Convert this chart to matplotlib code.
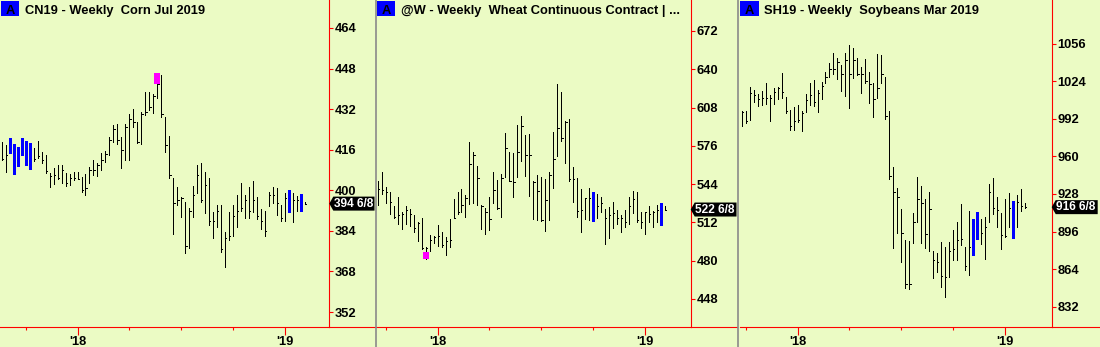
import matplotlib
matplotlib.use("Agg")
import matplotlib.pyplot as plt
from matplotlib.patches import Polygon, Rectangle
from matplotlib.lines import Line2D
from matplotlib.transforms import Bbox, TransformedBbox

plt.rcParams['font.family'] = ['Liberation Sans', 'DejaVu Sans']

# ---------------- data ----------------
corn_title = "CN19 - Weekly  Corn Jul 2019"
corn_high = [419.2, 417.9, 420.6, 418.3, 417.2, 420.6, 419.3, 418.7, 416.5, 419.4,
             415.0, 413.8, 407.0, 408.9, 410.0, 410.0, 406.7, 406.3, 407.1, 407.3,
             405.4, 406.3, 409.1, 411.9, 410.8, 414.6, 415.5, 421.1, 425.7, 426.3,
             421.1, 426.0, 430.0, 432.1, 427.1, 430.9, 438.9, 438.9, 438.0, 446.2,
             445.5, 429.0, 421.5, 404.7, 401.2, 397.4, 395.5, 392.9, 401.8, 410.0,
             410.6, 407.1, 404.7, 391.6, 394.1, 394.2, 383.7, 391.6, 394.2, 398.2,
             402.8, 398.2, 401.4, 403.8, 397.4, 392.5, 392.0, 399.5, 401.4, 401.0,
             394.2, 399.1, 400.1, 398.8, 397.9, 398.7, 395.5]
corn_low = [411.9, 407.1, 414.8, 406.6, 409.7, 414.1, 410.1, 408.5, 411.7, 412.6,
            410.6, 406.7, 401.4, 402.5, 404.5, 402.8, 401.6, 402.1, 404.1, 404.3,
            399.2, 398.3, 402.8, 406.0, 405.8, 408.0, 411.3, 413.9, 419.2, 418.4,
            408.7, 411.9, 411.9, 425.1, 418.5, 418.4, 429.7, 431.7, 430.3, 436.3,
            429.0, 415.2, 404.7, 382.6, 394.2, 389.6, 375.4, 377.1, 389.6, 399.1,
            395.5, 390.9, 386.3, 381.3, 385.7, 375.8, 369.9, 380.4, 382.0, 385.7,
            391.8, 389.0, 389.0, 391.6, 388.7, 384.7, 382.0, 393.9, 394.9, 390.3,
            387.9, 387.9, 391.6, 387.6, 392.0, 392.0, 394.5]
corn_close = [412.3, 414, 415.5, 409, 416, 415, 411, 416, 412.5, 413.5,
              412, 407.5, 405.5, 406, 405, 408, 403, 405, 405, 404.5,
              400, 401, 408, 408, 410, 412, 414.5, 420, 424, 420,
              416, 425, 428, 427, 419, 430, 431, 433, 437, 442,
              430, 418, 406, 395, 396, 397, 378, 392, 398, 406,
              396, 402, 388, 388, 392, 377, 381, 382, 390, 392,
              393, 396, 392, 396, 390, 388, 384, 398, 398, 395,
              389, 397, 392, 396, 396, 392.5, 394.75]
corn_blue = [2, 3, 4, 5, 6, 7, 72, 75]
corn_paint = (39, 441.8, 446.2)
corn_yticks = [352, 368, 384, 400, 416, 432, 448, 464]
corn_years = [19, 71]
corn_quarters = [6, 19, 32, 45, 58, 71]
corn_last = (394.75, "394 6/8")

wheat_title = "@W - Weekly  Wheat Continuous Contract | ..."
wheat_high = [546.6, 553.8, 541.3, 537.1, 525.7, 533.5, 521.0, 525.7, 522.9, 518.2,
              512.6, 515.4, 491.7, 501.5, 500.6, 509.8, 504.2, 500.1, 514.6, 531.3,
              537.7, 539.6, 534.9, 578.9, 571.1, 559.4, 526.5, 524.3, 532.9, 554.4,
              547.4, 552.4, 586.4, 571.1, 569.7, 593.4, 601.2, 585.0, 585.6, 546.6,
              551.6, 550.2, 548.0, 553.8, 587.8, 627.4, 620.7, 597.0, 598.1, 558.6,
              549.4, 539.9, 532.1, 540.5, 537.1, 535.5, 533.5, 523.2, 524.6, 528.8,
              522.4, 518.2, 522.4, 533.2, 538.5, 537.7, 521.0, 521.0, 525.7, 521.8,
              526.5, 528.2, 525.7]
wheat_low = [526.5, 535.5, 528.5, 519.0, 515.9, 510.4, 506.5, 510.4, 509.3, 503.7,
             496.7, 489.5, 481.7, 488.4, 494.5, 492.5, 491.7, 484.7, 491.7, 515.4,
             518.7, 520.4, 516.8, 527.1, 527.9, 526.5, 506.5, 502.0, 505.6, 527.9,
             523.2, 516.8, 549.7, 546.6, 533.5, 550.2, 563.3, 551.1, 534.3, 514.6,
             513.7, 513.4, 505.1, 514.0, 541.0, 567.5, 580.3, 561.4, 546.6, 528.8,
             516.8, 504.2, 514.6, 514.0, 513.4, 515.9, 520.4, 494.2, 499.2, 507.0,
             510.7, 504.2, 508.4, 510.7, 519.6, 512.6, 507.6, 502.0, 512.6, 508.4,
             512.6, 510.1, 522.4]
wheat_close = [539.9, 539.1, 537.1, 529.3, 516.8, 518.2, 518.7, 522.4, 518.7, 507.0,
               511.2, 490.9, 490.3, 497.3, 500.1, 500.9, 493.1, 496.7, 497.3, 515.9,
               521.0, 526.5, 532.1, 560.5, 568.3, 548.8, 525.7, 521.0, 514.8, 539.1,
               523.7, 548.8, 573.9, 547.0, 546.0, 570.6, 592.6, 568.3, 568.3, 546.0,
               538.2, 514.0, 530.7, 551.6, 564.7, 590.6, 582.3, 596.2, 548.0, 548.3,
               521.5, 522.4, 532.1, 532.1, 515.4, 525.7, 527.9, 515.4, 518.2, 519.6,
               515.4, 515.4, 512.6, 525.7, 531.3, 514.0, 512.6, 521.0, 518.7, 521.0,
               522.4, 520.0, 522.75]
wheat_blue = [54, 71]
wheat_paint = (12, 481.7, 487.5)
wheat_yticks = [448, 480, 512, 544, 576, 608, 640, 672]
wheat_years = [15, 67]
wheat_quarters = [2, 15, 28, 41, 54, 67]
wheat_last = (522.75, "522 6/8")

soy_title = "SH19 - Weekly  Soybeans Mar 2019"
soy_high = [998.7, 999.0, 1018.9, 1016.6, 1012.9, 1015.8, 1022.3, 1012.4, 1018.6, 1019.4,
            1030.8, 1010.9, 999.6, 1002.4, 1003.8, 998.7, 1013.2, 1022.3, 1025.1, 1016.6,
            1023.7, 1032.2, 1039.9, 1047.8, 1043.6, 1037.9, 1047.8, 1054.9, 1052.0, 1043.6,
            1036.4, 1042.7, 1032.2, 1022.3, 1046.9, 1046.4, 1028.0, 999.0, 951.3, 932.9,
            914.9, 888.8, 887.9, 912.1, 942.7, 934.8, 923.4, 929.4, 879.4, 877.5,
            887.4, 882.6, 887.4, 897.3, 904.4, 919.2, 883.2, 913.5, 906.7, 912.7,
            906.7, 908.7, 936.5, 941.9, 925.7, 912.1, 923.4, 928.6, 922.1, 927.2,
            932.0, 920.1]
soy_low = [985.9, 988.2, 991.0, 1006.7, 1003.3, 1003.8, 1004.7, 990.5, 1004.7, 1008.9,
           1009.5, 996.7, 982.5, 982.5, 989.6, 982.0, 997.6, 1003.8, 1003.0, 998.2,
           1008.7, 1022.3, 1028.0, 1030.0, 1025.7, 1016.0, 1011.5, 1001.6, 1026.5, 1029.3,
           1013.7, 1022.8, 1005.8, 993.8, 1010.0, 1022.3, 991.6, 940.5, 881.7, 894.5,
           870.3, 847.6, 846.8, 886.0, 904.4, 886.0, 881.7, 879.7, 856.1, 861.8,
           848.5, 840.5, 857.5, 871.8, 871.8, 884.6, 863.3, 859.0, 876.1, 889.7,
           885.2, 872.4, 904.4, 910.7, 900.2, 880.9, 891.7, 899.6, 890.8, 900.2,
           913.8, 915.8]
soy_close = [998, 990, 1014, 1012, 1009, 1010, 1010, 1010, 1015, 1018,
             1015, 999, 986, 990, 991, 997, 1008, 1012, 1006, 1014,
             1020, 1028, 1034, 1034, 1040, 1030, 1042, 1030, 1042, 1030,
             1030, 1024, 1022, 1009, 1018, 1030, 994, 943, 930, 925,
             895, 851, 851, 904, 924, 920, 894, 915, 872, 870,
             858, 857, 879, 881, 889, 890, 867, 883, 880, 895,
             895, 900, 930, 916, 914, 893, 892, 916, 900, 921,
             918, 916.75]
soy_blue = [58, 59, 68]
soy_paint = None
soy_yticks = [832, 864, 896, 928, 960, 992, 1024, 1056]
soy_years = [14, 66]
soy_quarters = [1, 14, 27, 40, 53, 66]
soy_last = (916.75, "916 6/8")
year_labels = ["'18", "'19"]

# ---------------- style / layout ----------------
W, H = 1100, 347
BG = '#EBFBC4'
RED = '#FF0000'
BLUE = '#0000FF'
MAGENTA = '#FF00FF'
GREY = '#8A8A8A'
FS = 9.3
TAG_FS = 8.6
AXIS_Y = 327.3
STEP = 3.99
BAR_LW = 0.72

fig = plt.figure(figsize=(W / 100, H / 100), dpi=100, facecolor=BG)


def fx(px):
    return px / W


def fy(py):
    return 1 - py / H


def panel(left, axis_x, right, first_px, ylim, title, highs, lows, closes,
          blue, paint, yticks, years, quarters, last):
    ax = fig.add_axes([fx(left), fy(AXIS_Y), (axis_x - left) / W, AXIS_Y / H])
    ax.set_facecolor(BG)
    ax.set_xlim((left - first_px) / STEP, (axis_x - first_px) / STEP)
    ax.set_ylim(*ylim)
    for s in ['top', 'left']:
        ax.spines[s].set_visible(False)
    for s in ['right', 'bottom']:
        ax.spines[s].set_color(RED)
        ax.spines[s].set_linewidth(0.8)

    n = len(highs)
    black = [i for i in range(n) if i not in blue]
    ax.vlines(black, [lows[i] for i in black], [highs[i] for i in black],
              colors='black', lw=BAR_LW, antialiased=False)
    ax.hlines([closes[i] for i in black], black, [i + 0.32 for i in black],
              colors='black', lw=BAR_LW, antialiased=False)
    if blue:
        ax.vlines(blue, [lows[i] for i in blue], [highs[i] for i in blue],
                  colors=BLUE, lw=2.15, antialiased=False)
    if paint is not None:
        pi, plo, phi = paint
        ax.vlines([pi], [plo], [phi], colors=MAGENTA, lw=2.9, antialiased=False)

    # y axis on the right
    ax.yaxis.tick_right()
    ax.set_yticks(yticks)
    ax.set_yticklabels([str(v) for v in yticks], fontweight='bold')
    ax.tick_params(axis='y', length=3, width=0.8, color=RED, pad=1,
                   labelsize=FS, labelcolor='black')
    # x axis
    ax.set_xticks(years)
    ax.set_xticklabels(year_labels, fontweight='bold')
    ax.set_xticks(quarters, minor=True)
    ax.tick_params(axis='x', which='major', length=6, width=0.8, color=RED,
                   pad=0, labelsize=FS, labelcolor='black')
    ax.tick_params(axis='x', which='minor', length=2, width=0.8, color=RED)

    # bottom red line extension under the label column
    fig.add_artist(Line2D([fx(axis_x), fx(right)], [fy(AXIS_Y), fy(AXIS_Y)],
                          color=RED, lw=0.8, transform=fig.transFigure))

    # title box
    fig.add_artist(Rectangle((fx(left + 0.5), fy(16)), 18.5 / W, 15 / H,
                             facecolor=BLUE, edgecolor='none',
                             transform=fig.transFigure))
    fig.text(fx(left + 9.8), fy(14), "A", color='black', fontweight='bold',
             fontsize=FS, ha='center', va='baseline')
    fig.text(fx(left + 25), fy(13.7), title, color='black', fontweight='bold',
             fontsize=FS, ha='left', va='baseline')

    # last value tag
    val, lab = last
    yc = H - ax.transData.transform((0, val))[1]
    r = min(axis_x + 46, right - 0.5)
    pts = [(axis_x, yc), (axis_x + 4, yc - 7), (r, yc - 7), (r, yc + 7),
           (axis_x + 4, yc + 7)]
    fig.add_artist(Polygon([(fx(a), fy(b)) for a, b in pts], closed=True,
                           facecolor='black', edgecolor='none',
                           transform=fig.transFigure, zorder=5))
    t = fig.text(fx(axis_x + 4.5), fy(yc), lab, color='white', fontweight='bold',
                 fontsize=TAG_FS, ha='left', va='center', zorder=6)
    t.set_clip_box(TransformedBbox(Bbox.from_extents(fx(axis_x), 0, fx(r), 1),
                                   fig.transFigure))
    t.set_clip_on(True)
    return ax


panel(0, 329.3, 375, 1.7, (346.0, 475.0), corn_title, corn_high, corn_low,
      corn_close, corn_blue, corn_paint, corn_yticks, corn_years,
      corn_quarters, corn_last)
panel(376, 690.7, 737, 377.7, (424.3, 697.9), wheat_title, wheat_high,
      wheat_low, wheat_close, wheat_blue, wheat_paint, wheat_yticks,
      wheat_years, wheat_quarters, wheat_last)
panel(739.5, 1051.7, 1100, 741.7, (814.4, 1093.2), soy_title, soy_high,
      soy_low, soy_close, soy_blue, soy_paint, soy_yticks, soy_years,
      soy_quarters, soy_last)

# panel separators
for xs in (375.5, 738.3):
    fig.add_artist(Line2D([fx(xs), fx(xs)], [0, 1], color=GREY, lw=1.2,
                          transform=fig.transFigure, zorder=8))

fig.savefig("out.png", dpi=100, facecolor=BG)
